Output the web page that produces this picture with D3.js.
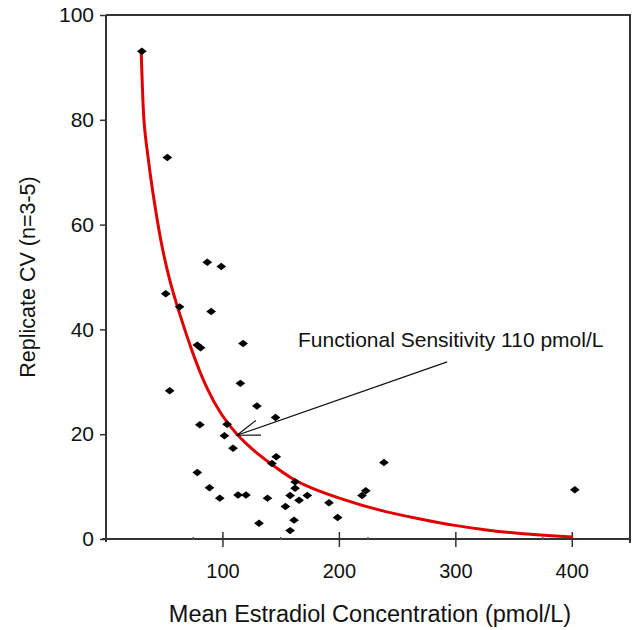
<!DOCTYPE html>
<html>
<head>
<meta charset="utf-8">
<script src="https://cdn.jsdelivr.net/npm/d3@7"></script>
<style>
  html, body { margin: 0; padding: 0; background: #fff; }
  svg { display: block; font-family: Arial, 'Liberation Sans', sans-serif; }
</style>
</head>
<body>
<div id="chart"></div>
<script>
  'use strict';

  // scatter: mean estradiol (pmol/L) vs replicate CV (%)
  var estradiol = [30.8, 52.7, 87, 99, 51.3, 63.2, 90.3, 78.4, 81.2, 117.7,
                   115.4, 54.7, 129.6, 145.6, 80.6, 104, 101.7, 109.1, 146.2, 142.5,
                   78.4, 88.9, 97.7, 113.4, 120.2, 138.7, 131.4, 154.1, 158.1, 162.4,
                   162.4, 165.8, 172.9, 161.5, 158.1, 191.5, 198.9, 219.9, 223.1, 238.7,
                   402.6];
  var cv = [93.1, 72.8, 52.8, 52.0, 46.8, 44.3, 43.4, 37.0, 36.5, 37.3,
            29.7, 28.3, 25.4, 23.2, 21.8, 21.9, 19.7, 17.3, 15.7, 14.4,
            12.7, 9.8, 7.8, 8.4, 8.4, 7.8, 3.0, 6.2, 8.3, 9.7,
            10.9, 7.4, 8.3, 3.6, 1.6, 6.9, 4.1, 8.3, 9.2, 14.6,
            9.4];

  // precision profile curve
  var curveX = [30.2, 31.2, 32.3, 34.5, 38, 42.2, 48, 55, 62, 74, 86.5, 99,
                112.5, 127, 142.3, 160, 175, 201, 235, 270, 298, 327, 355, 401];
  var curveY = [93, 86.5, 80, 75.5, 69.5, 63.2, 55.6, 49, 43.8, 35.6, 28.6, 23.6,
                19.8, 16.8, 14.2, 11.4, 9.8, 7.7, 5.4, 3.8, 2.6, 1.7, 1.0, 0.4];

  var xTicks = [100, 200, 300, 400];
  var xMinorTicks = [75, 150, 225, 375];
  var yTicks = [0, 20, 40, 60, 80, 100];

  // annotation: label, arrow tail and tip in data units
  var noteText = 'Functional Sensitivity 110 pmol/L';
  var noteTail = [293, 33.8];
  var noteTip = [112.5, 19.8];

  var width = 634, height = 630;
  var margin = {top: 15, right: 4, bottom: 91, left: 106};

  var svg = d3.select('#chart').append('svg')
      .attr('width', width)
      .attr('height', height);

  var x = d3.scaleLinear().domain([0, 450])
      .range([margin.left, width - margin.right]);
  var y = d3.scaleLinear().domain([0, 100])
      .range([height - margin.bottom, margin.top]);

  var axisColor = '#333';

  // frame (top + right)
  svg.append('path')
    .attr('d', 'M' + x(0) + ',' + y(100) + 'H' + x(450) + 'V' + (y(0) + 4))
    .attr('fill', 'none')
    .attr('stroke', axisColor)
    .attr('stroke-width', 2);

  // y axis
  var yAxis = svg.append('g')
      .attr('transform', 'translate(' + x(0) + ',0)')
      .call(d3.axisLeft(y).tickValues(yTicks).tickSize(6).tickPadding(6).tickSizeOuter(0));
  yAxis.select('.domain').remove();
  yAxis.append('line')
    .attr('y1', y(100)).attr('y2', y(0) + 3)
    .attr('stroke', axisColor).attr('stroke-width', 2);
  yAxis.selectAll('.tick line').attr('stroke', axisColor).attr('stroke-width', 1.5);
  yAxis.selectAll('.tick text')
    .attr('fill', '#111')
    .style('font-size', '21px')
    .style('font-family', 'Arial, "Liberation Sans", sans-serif');

  // x axis, ticks cross the line
  var xAxis = svg.append('g')
      .attr('transform', 'translate(0,' + y(0) + ')')
      .call(d3.axisBottom(x).tickValues(xTicks).tickSize(8).tickPadding(17).tickSizeOuter(0));
  xAxis.select('.domain').remove();
  xAxis.append('line')
    .attr('x1', x(0) - 4).attr('x2', x(450))
    .attr('stroke', axisColor).attr('stroke-width', 2);
  xAxis.selectAll('.tick line')
    .attr('y1', -7)
    .attr('stroke', axisColor).attr('stroke-width', 1.5);
  xAxis.selectAll('.tick text')
    .attr('fill', '#111')
    .style('font-size', '20px')
    .style('font-family', 'Arial, "Liberation Sans", sans-serif');
  xAxis.selectAll('.minor')
    .data(xMinorTicks)
    .enter().append('line')
    .attr('class', 'minor')
    .attr('x1', function(d) { return x(d); })
    .attr('x2', function(d) { return x(d); })
    .attr('y1', -2).attr('y2', 1)
    .attr('stroke', '#555').attr('stroke-width', 1.5);

  // axis titles
  svg.append('text')
    .attr('x', 370)
    .attr('y', 622)
    .attr('text-anchor', 'middle')
    .attr('fill', '#111')
    .style('font-size', '23.5px')
    .text('Mean Estradiol Concentration (pmol/L)');

  svg.append('text')
    .attr('transform', 'translate(35,' + 277 + ') rotate(-90)')
    .attr('text-anchor', 'middle')
    .attr('fill', '#111')
    .style('font-size', '21.5px')
    .text('Replicate CV (n=3-5)');

  // red precision curve
  var curveData = curveX.map(function(d, i) { return [d, curveY[i]]; });
  var line = d3.line()
      .x(function(d) { return x(d[0]); })
      .y(function(d) { return y(d[1]); })
      .curve(d3.curveBasis);

  svg.append('path')
    .datum(curveData)
    .attr('d', line)
    .attr('fill', 'none')
    .attr('stroke', '#e00000')
    .attr('stroke-width', 3);

  // flattened diamond marker
  var flatDiamond = {
    draw: function(ctx, size) {
      var w = Math.sqrt(size) * 0.72, h = Math.sqrt(size) * 0.55;
      ctx.moveTo(-w, 0);
      ctx.lineTo(0, -h);
      ctx.lineTo(w, 0);
      ctx.lineTo(0, h);
      ctx.closePath();
    }
  };

  var points = estradiol.map(function(d, i) { return {x: d, y: cv[i]}; });
  svg.selectAll('.dot')
    .data(points)
    .enter().append('path')
    .attr('class', 'dot')
    .attr('d', d3.symbol().type(flatDiamond).size(46))
    .attr('transform', function(d) {
      return 'translate(' + x(d.x) + ',' + y(d.y) + ')';
    })
    .attr('fill', '#000');

  // annotation arrow
  var tx = x(noteTail[0]), ty = y(noteTail[1]);
  var hx = x(noteTip[0]), hy = y(noteTip[1]);
  var ang = Math.atan2(ty - hy, tx - hx);
  var headLen = 24, spread = 0.33;
  svg.append('line')
    .attr('x1', tx).attr('y1', ty)
    .attr('x2', hx).attr('y2', hy)
    .attr('stroke', '#111').attr('stroke-width', 1.2);
  svg.append('path')
    .attr('d', 'M' + (hx + headLen * Math.cos(ang + spread)) + ',' + (hy + headLen * Math.sin(ang + spread)) +
               'L' + hx + ',' + hy +
               'L' + (hx + headLen * Math.cos(ang - spread)) + ',' + (hy + headLen * Math.sin(ang - spread)))
    .attr('fill', 'none')
    .attr('stroke', '#111')
    .attr('stroke-width', 1.2);

  svg.append('text')
    .attr('x', 298)
    .attr('y', 347)
    .attr('fill', '#111')
    .style('font-size', '21px')
    .text(noteText);
</script>
</body>
</html>
